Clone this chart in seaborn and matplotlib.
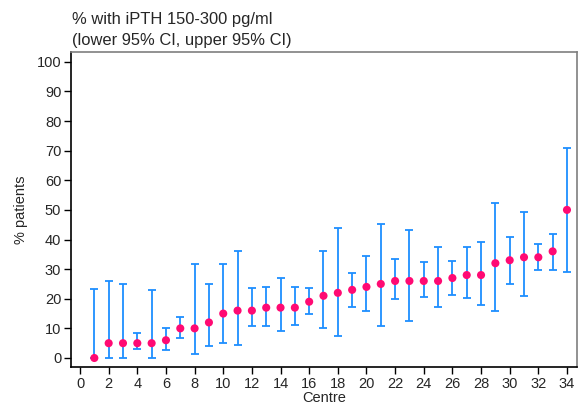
import matplotlib
matplotlib.use("Agg")
import matplotlib.pyplot as plt
import seaborn as sns
import pandas as pd

centre = list(range(1, 35))
pct = [0, 5, 5, 5, 5, 6, 10, 10, 12, 15, 16, 16, 17, 17, 17, 19, 21, 22, 23, 24,
       25, 26, 26, 26, 26, 27, 28, 28, 32, 33, 34, 34, 36, 50]
lower = [0, 0, 0, 2.9, 0, 2.6, 6.7, 1.2, 3.9, 5.1, 4.5, 10.8, 10.8, 9.2, 11.1, 14.8,
         10.1, 7.4, 17.2, 16, 10.8, 20, 12.5, 20.7, 17.1, 21.1, 20.2, 18, 15.7, 25,
         20.8, 29.6, 29.8, 29.1]
upper = [23.2, 26.1, 24.9, 8.4, 22.9, 10.1, 13.7, 31.6, 25, 31.8, 36.1, 23.6, 24.1,
         27.1, 24.1, 23.6, 36.1, 43.8, 28.8, 34.6, 45.1, 33.3, 43.2, 32.3, 37.4, 32.7,
         37.6, 39.1, 52.4, 40.9, 49.4, 38.4, 42, 71]

df = pd.DataFrame({"centre": centre, "pct": pct, "lower": lower, "upper": upper})

sns.set_style("white")
plt.rcParams['font.family'] = ['Liberation Sans', 'DejaVu Sans']

fig = plt.figure(figsize=(5.83, 4.09), dpi=100)
ax = fig.add_axes([71/583, 1 - 367/409, (577-71)/583, (367-52)/409])

blue = "#1E8FFF"
pink = "#FF0A73"

ax.errorbar(df["centre"], df["pct"],
            yerr=[df["pct"] - df["lower"], df["upper"] - df["pct"]],
            fmt="none", ecolor=blue, elinewidth=1.3, capsize=2.8, capthick=1.3, zorder=2)
sns.scatterplot(data=df, x="centre", y="pct", ax=ax, color=pink, s=34,
                edgecolor="none", zorder=3, legend=False)

ax.set_xlim(-0.63, 34.7)
ax.set_ylim(-3.04, 103.3)
ax.set_xticks(range(0, 35, 2))
ax.set_yticks(range(0, 101, 10))
ax.tick_params(axis="both", direction="out", length=5, width=1, color="black",
               labelsize=10.5, pad=2, left=True, bottom=True)
ax.set_xlabel("Centre", fontsize=10.5, labelpad=0.5)
ax.set_ylabel("% patients", fontsize=10.5, labelpad=6)

for s in ["left", "bottom"]:
    ax.spines[s].set_color("black")
    ax.spines[s].set_linewidth(1.2)
for s in ["top", "right"]:
    ax.spines[s].set_color("#7f7f7f")
    ax.spines[s].set_linewidth(1.2)

fig.text(72/583, 1 - 19.5/409, "% with iPTH 150-300 pg/ml", fontsize=11.9,
         ha="left", va="center")
fig.text(72/583, 1 - 41/409, "(lower 95% CI, upper 95% CI)", fontsize=11.9,
         ha="left", va="center")

fig.savefig("out.png", dpi=100)
